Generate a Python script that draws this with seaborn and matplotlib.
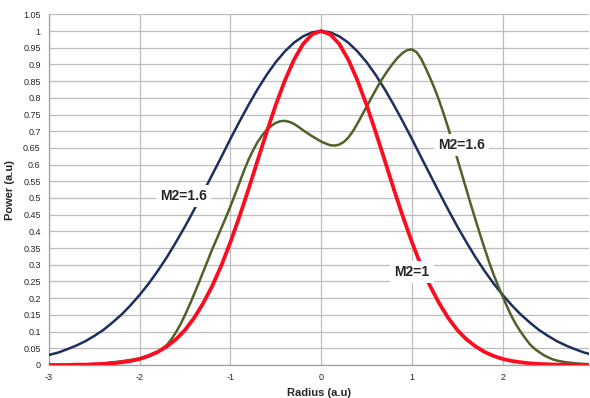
import numpy as np
import pandas as pd
import matplotlib
matplotlib.use("Agg")
import matplotlib.pyplot as plt
import seaborn as sns

# ---- data ----
radius = [-3.0, -2.9, -2.8, -2.7, -2.6, -2.5, -2.4, -2.3, -2.2, -2.1,
          -2.0, -1.9, -1.8, -1.7, -1.6, -1.5, -1.4, -1.3, -1.2, -1.1,
          -1.0, -0.9, -0.8, -0.7, -0.6, -0.5, -0.4, -0.3, -0.2, -0.1,
          0.0, 0.1, 0.2, 0.3, 0.4, 0.5, 0.6, 0.7, 0.8, 0.9,
          1.0, 1.1, 1.2, 1.3, 1.4, 1.5, 1.6, 1.7, 1.8, 1.9,
          2.0, 2.1, 2.2, 2.3, 2.4, 2.5, 2.6, 2.7, 2.8, 2.9, 3.0]

power_wide = [0.030, 0.037, 0.047, 0.058, 0.071, 0.087, 0.105, 0.127, 0.151, 0.179,
              0.210, 0.244, 0.282, 0.323, 0.368, 0.415, 0.465, 0.517, 0.570, 0.623,
              0.677, 0.729, 0.779, 0.826, 0.869, 0.907, 0.939, 0.965, 0.984, 0.996,
              1.000, 0.996, 0.984, 0.965, 0.939, 0.907, 0.869, 0.826, 0.779, 0.729,
              0.677, 0.623, 0.570, 0.517, 0.465, 0.415, 0.368, 0.323, 0.282, 0.244,
              0.210, 0.179, 0.151, 0.127, 0.105, 0.087, 0.071, 0.058, 0.047, 0.037, 0.030]

power_gauss = [0.000, 0.000, 0.000, 0.001, 0.001, 0.002, 0.003, 0.005, 0.008, 0.012,
               0.018, 0.027, 0.039, 0.056, 0.077, 0.105, 0.141, 0.185, 0.237, 0.298,
               0.368, 0.445, 0.527, 0.613, 0.698, 0.779, 0.852, 0.914, 0.961, 0.990,
               1.000, 0.990, 0.961, 0.914, 0.852, 0.779, 0.698, 0.613, 0.527, 0.445,
               0.368, 0.298, 0.237, 0.185, 0.141, 0.105, 0.077, 0.056, 0.039, 0.027,
               0.018, 0.012, 0.008, 0.005, 0.003, 0.002, 0.001, 0.001, 0.000, 0.000, 0.000]

# mixed-mode beam, read more finely (sampling grid: coarse tails, 0.05 in the middle)
radius_mixed = list(np.round(np.concatenate([np.arange(-3.0, -2.05, 0.1),
                                             np.arange(-2.0, 2.625, 0.05),
                                             np.arange(2.7, 3.05, 0.1)]), 2))
power_mixed = [0.000, 0.000, 0.001, 0.001, 0.002, 0.003, 0.005, 0.008, 0.011, 0.015,
               # -2.0 .. -1.05
               0.020, 0.024, 0.029, 0.035, 0.040, 0.048, 0.060, 0.077, 0.098, 0.122,
               0.150, 0.180, 0.212, 0.245, 0.279, 0.313, 0.347, 0.378, 0.410, 0.442,
               # -1.0 .. -0.05
               0.475, 0.510, 0.546, 0.582, 0.615, 0.643, 0.668, 0.688, 0.704, 0.716,
               0.725, 0.730, 0.731, 0.728, 0.722, 0.713, 0.703, 0.694, 0.685, 0.677,
               # 0.0 .. 0.95
               0.669, 0.663, 0.658, 0.657, 0.660, 0.668, 0.681, 0.700, 0.723, 0.748,
               0.773, 0.798, 0.823, 0.847, 0.868, 0.888, 0.906, 0.922, 0.935, 0.943,
               # 1.0 .. 1.95
               0.945, 0.937, 0.918, 0.890, 0.860, 0.828, 0.792, 0.752, 0.710, 0.665,
               0.618, 0.572, 0.526, 0.480, 0.436, 0.392, 0.350, 0.309, 0.271, 0.237,
               # 2.0 .. 2.6
               0.205, 0.174, 0.145, 0.120, 0.099, 0.080, 0.062, 0.049, 0.039, 0.030,
               0.023, 0.017, 0.013,
               # 2.7 .. 3.0
               0.008, 0.005, 0.003, 0.002]

x_ticks = [-3, -2, -1, 0, 1, 2]
x_tick_labels = ["-3", "-2", "-1", "0", "1", "2"]
y_ticks = [i * 0.05 for i in range(22)]
y_tick_labels = ["0", "0.05", "0.1", "0.15", "0.2", "0.25", "0.3", "0.35", "0.4", "0.45",
                 "0.5", "0.55", "0.6", "0.65", "0.7", "0.75", "0.8", "0.85", "0.9", "0.95",
                 "1", "1.05"]

labels = ["M2=1.6", "M2=1.6", "M2=1"]

# ---- plot ----
sns.set_style("white")
plt.rcParams['font.family'] = ['Liberation Sans', 'DejaVu Sans']

fig = plt.figure(figsize=(5.9, 3.98), dpi=100)
ax = fig.add_axes([0.083, 0.083, 0.915, 0.881])

df = pd.DataFrame({"radius": radius, "wide": power_wide, "gauss": power_gauss})
dfm = pd.DataFrame({"radius": radius_mixed, "mixed": power_mixed})

sns.lineplot(data=df, x="radius", y="wide", ax=ax, color="#1D2F5E", linewidth=1.8, zorder=3)
sns.lineplot(data=dfm, x="radius", y="mixed", ax=ax, color="#4F6228", linewidth=1.8, zorder=4)
sns.lineplot(data=df, x="radius", y="gauss", ax=ax, color="#FF0A1E", linewidth=2.7, zorder=5)

ax.set_xlim(-3, 2.95)
ax.set_ylim(0, 1.05)
ax.set_xticks(x_ticks)
ax.set_xticklabels(x_tick_labels, fontsize=6.5)
ax.set_yticks(y_ticks)
ax.set_yticklabels(y_tick_labels, fontsize=6.5)
ax.tick_params(axis="both", length=0, pad=6)
ax.grid(True, color="#BDBDBD", linewidth=0.9, zorder=0)
ax.set_axisbelow(True)
for s in ["top", "right"]:
    ax.spines[s].set_visible(False)
for s in ["left", "bottom"]:
    ax.spines[s].set_color("#A0A0A0")
    ax.spines[s].set_linewidth(0.9)

ax.set_xlabel("Radius (a.u)", fontsize=8, fontweight="bold", labelpad=4)
ax.set_ylabel("Power (a.u)", fontsize=8, fontweight="bold", labelpad=6)

box = dict(facecolor="white", edgecolor="none", pad=3)
ax.text(-1.52, 0.506, labels[0], fontsize=10, fontweight="bold", ha="center", va="center", bbox=box, zorder=6)
ax.text(1.55, 0.658, labels[1], fontsize=10, fontweight="bold", ha="center", va="center", bbox=box, zorder=6)
ax.text(1.0, 0.278, labels[2], fontsize=10, fontweight="bold", ha="center", va="center", bbox=box, zorder=6)

fig.savefig("out.png", dpi=100)
